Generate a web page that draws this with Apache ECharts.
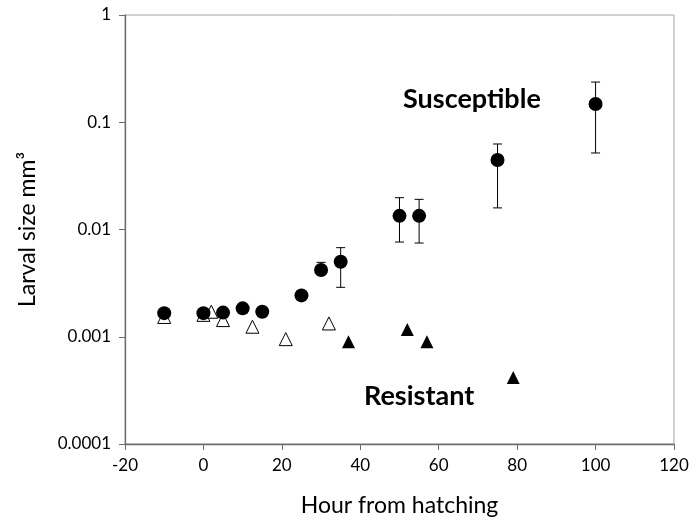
<!DOCTYPE html>
<html><head><meta charset="utf-8">
<script src="https://cdn.jsdelivr.net/npm/echarts@6/dist/echarts.min.js"></script>
<style>html,body{margin:0;padding:0;background:#fff}#c{width:697px;height:528px}</style>
</head><body><div id="c"></div>
<script>
// Susceptible: hour, mean size, error low, error high
var susHours = [-10, 0, 5, 10, 15, 25, 30, 35, 50, 55, 75, 100];
var susSize  = [0.00166, 0.00166, 0.00168, 0.00184, 0.00171, 0.00243, 0.00419, 0.0050, 0.0134, 0.0134, 0.0444, 0.148];
var susLow   = [null, null, null, null, null, null, 0.0038, 0.00289, 0.00764, 0.00748, 0.0159, 0.0517];
var susHigh  = [null, null, null, null, null, null, 0.00494, 0.00677, 0.0198, 0.0191, 0.0627, 0.237];
// Resistant (open triangles)
var resOpenHours = [-10, 0, 2, 5, 12.5, 21, 32];
var resOpenSize  = [0.00153, 0.0016, 0.00171, 0.00143, 0.00124, 0.00095, 0.00133];
// Resistant (filled triangles)
var resFillHours = [37, 52, 57, 79];
var resFillSize  = [0.0009, 0.00117, 0.0009, 0.000418];
var xTicks = [-20, 0, 20, 40, 60, 80, 100, 120];
var yTickLabels = {'-4': '0.0001', '-3': '0.001', '-2': '0.01', '-1': '0.1', '0': '1'};

function zip(a, b) { return a.map(function (v, i) { return [v, b[i]]; }); }
var errData = [];
susHours.forEach(function (h, i) { if (susLow[i] != null) errData.push([h, susLow[i], susHigh[i]]); });

var FONT = 'Lato';
var chart = echarts.init(document.getElementById('c'));
chart.setOption({
  animation: false,
  grid: { left: 125, right: 23, top: 15, bottom: 84, show: true, borderColor: '#a6a6a6', borderWidth: 1 },
  xAxis: {
    type: 'value', min: xTicks[0], max: xTicks[xTicks.length - 1], interval: 20,
    name: 'Hour from hatching', nameLocation: 'middle', nameGap: 50,
    nameTextStyle: { fontFamily: FONT, fontSize: 23, color: '#000' },
    axisLine: { onZero: false, lineStyle: { color: '#6b6b6b', width: 1.3 } },
    axisTick: { show: true, length: 6, lineStyle: { color: '#6b6b6b' } },
    axisLabel: { fontFamily: FONT, fontSize: 17, color: '#000', margin: 13 },
    splitLine: { show: false }
  },
  yAxis: {
    type: 'log', logBase: 10, min: 0.0001, max: 1,
    name: 'Larval size mm³', nameLocation: 'middle', nameGap: 86, nameRotate: 90,
    nameTextStyle: { fontFamily: FONT, fontSize: 23, color: '#000' },
    axisLine: { onZero: false, lineStyle: { color: '#6b6b6b', width: 1.3 } },
    axisTick: { show: true, length: 6, lineStyle: { color: '#6b6b6b' } },
    axisLabel: { fontFamily: FONT, fontSize: 17, color: '#000', margin: 14,
      formatter: function (v) { var k = String(Math.round(Math.log10(v))); return yTickLabels[k] || ''; } },
    minorTick: { show: false },
    splitLine: { show: false }
  },
  graphic: [
    { type: 'text', x: 403, y: 99, style: { text: 'Susceptible', font: 'bold 27px Lato', fill: '#000', textAlign: 'left', textVerticalAlign: 'middle' } },
    { type: 'text', x: 364, y: 396, style: { text: 'Resistant', font: 'bold 27px Lato', fill: '#000', textAlign: 'left', textVerticalAlign: 'middle' } }
  ],
  series: [
    { type: 'custom', z: 1, data: errData,
      renderItem: function (params, api) {
        var x = api.value(0);
        var lo = api.coord([x, api.value(1)]);
        var hi = api.coord([x, api.value(2)]);
        var w = 4.5;
        var st = { stroke: '#000', lineWidth: 1 };
        return { type: 'group', children: [
          { type: 'line', shape: { x1: lo[0], y1: lo[1], x2: hi[0], y2: hi[1] }, style: st },
          { type: 'line', shape: { x1: lo[0] - w, y1: lo[1], x2: lo[0] + w, y2: lo[1] }, style: st },
          { type: 'line', shape: { x1: hi[0] - w, y1: hi[1], x2: hi[0] + w, y2: hi[1] }, style: st }
        ] };
      } },
    { type: 'scatter', z: 2, data: zip(resOpenHours, resOpenSize), symbol: 'triangle', symbolSize: 13,
      itemStyle: { color: '#fff', borderColor: '#000', borderWidth: 1, opacity: 1 } },
    { type: 'scatter', z: 2, data: zip(resFillHours, resFillSize), symbol: 'triangle', symbolSize: 13,
      itemStyle: { color: '#000', opacity: 1 } },
    { type: 'scatter', z: 3, data: zip(susHours, susSize), symbol: 'circle', symbolSize: 14,
      itemStyle: { color: '#000', opacity: 1 } }
  ]
});
</script></body></html>
